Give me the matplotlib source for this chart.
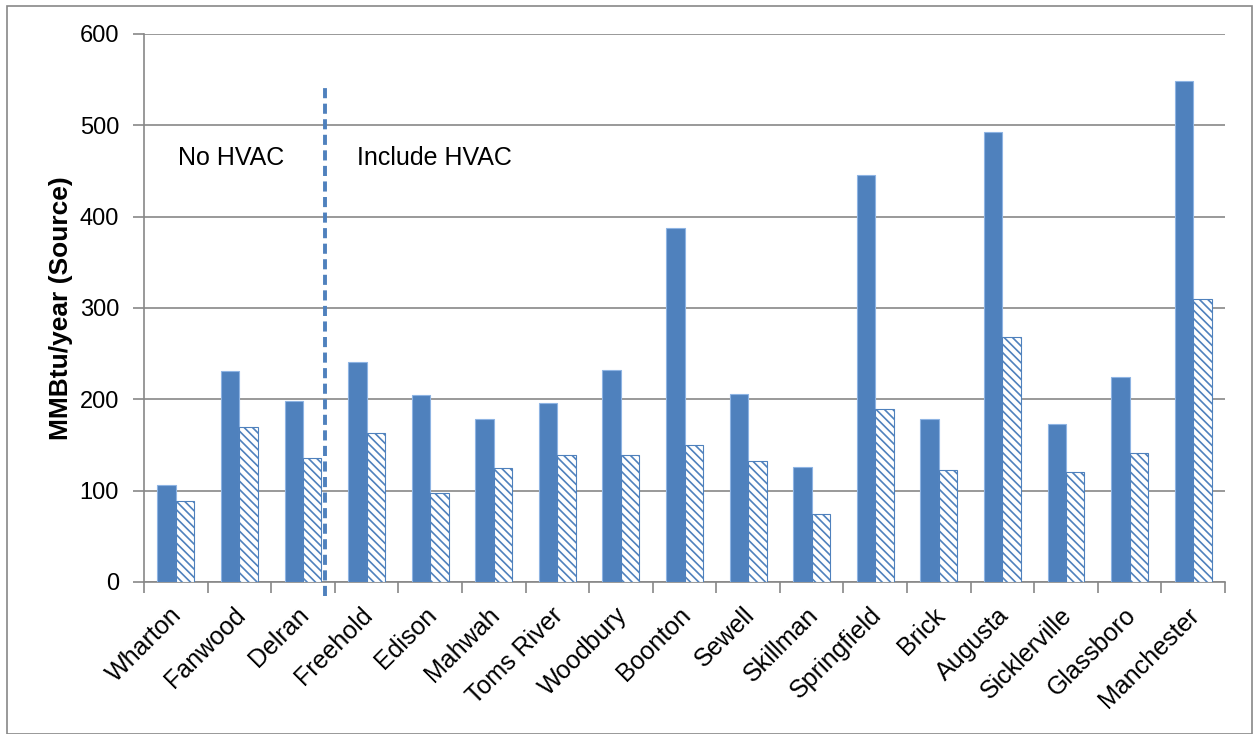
import matplotlib
matplotlib.use("Agg")
import matplotlib.pyplot as plt
import matplotlib.transforms as mtrans
import numpy as np
from matplotlib.patches import Rectangle

plt.rcParams['font.family'] = ['Liberation Sans', 'DejaVu Sans']
plt.rcParams['hatch.linewidth'] = 1.2

# data
sites = ['Wharton', 'Fanwood', 'Delran', 'Freehold', 'Edison', 'Mahwah',
         'Toms River', 'Woodbury', 'Boonton', 'Sewell', 'Skillman',
         'Springfield', 'Brick', 'Augusta', 'Sicklerville', 'Glassboro',
         'Manchester']
solid_vals = [106, 231, 198, 241, 205, 178, 196, 232, 388, 206, 126,
              446, 179, 493, 173, 225, 548]
hatch_vals = [89, 170, 136, 163, 97, 125, 139, 139, 150, 132, 74,
              189, 123, 268, 120, 141, 310]
yticks = [0, 100, 200, 300, 400, 500, 600]

blue = '#4F81BD'
grey = '#878787'

fig = plt.figure(figsize=(12.53, 7.34), dpi=100)
ax = fig.add_axes([144 / 1253, 1 - 582 / 734, (1225 - 144) / 1253, (582 - 34) / 734])

x = np.arange(len(sites))
w = 0.29
ax.bar(x - 0.145, solid_vals, w, color=blue, edgecolor='#8EB4E3', linewidth=0.8, zorder=3)
ax.bar(x + 0.145, hatch_vals, w, color='white', edgecolor=blue, hatch='\\\\\\\\',
       linewidth=0.8, zorder=3)

ax.set_xlim(-0.5, len(sites) - 0.5)
ax.set_ylim(0, 600)
ax.set_yticks(yticks)
ax.yaxis.grid(True, color=grey, linewidth=1.2, zorder=0)

# category ticks at boundaries, labels at centres
ax.set_xticks(np.arange(-0.5, len(sites)), minor=False)
ax.set_xticklabels([])
ax.set_xticks(x, minor=True)
ax.set_xticklabels(sites, minor=True, rotation=45, ha='right', va='top',
                   rotation_mode='anchor', fontsize=18)
ax.tick_params(axis='x', which='minor', length=0, pad=15)
ax.tick_params(axis='x', which='major', length=8, width=1.2, color=grey)
ax.tick_params(axis='y', length=8, width=1.2, color=grey, labelsize=17, pad=10)
shift = mtrans.ScaledTranslation(-6 / 100, 0, fig.dpi_scale_trans)
for lab in ax.get_xticklabels(minor=True):
    lab.set_transform(lab.get_transform() + shift)

for s in ['top', 'right']:
    ax.spines[s].set_visible(False)
for s in ['left', 'bottom']:
    ax.spines[s].set_color(grey)
    ax.spines[s].set_linewidth(1.2)

ax.set_ylabel('MMBtu/year (Source)', fontsize=19, fontweight='bold', labelpad=5)

ax.plot([2.35, 2.35], [-15, 545], color=blue, linestyle=(0, (2.6, 1.4)), linewidth=2.8,
        clip_on=False, zorder=4)
ax.text(0.03, 464, 'No HVAC', fontsize=18, va='center', ha='left')
ax.text(2.85, 464, 'Include HVAC', fontsize=18, va='center', ha='left')

fig.patches.append(Rectangle((7 / 1253, 0), 1 - 8 / 1253, 1 - 6 / 734,
                             transform=fig.transFigure, fill=False,
                             edgecolor=grey, linewidth=1.2))

fig.savefig('out.png', dpi=100)
